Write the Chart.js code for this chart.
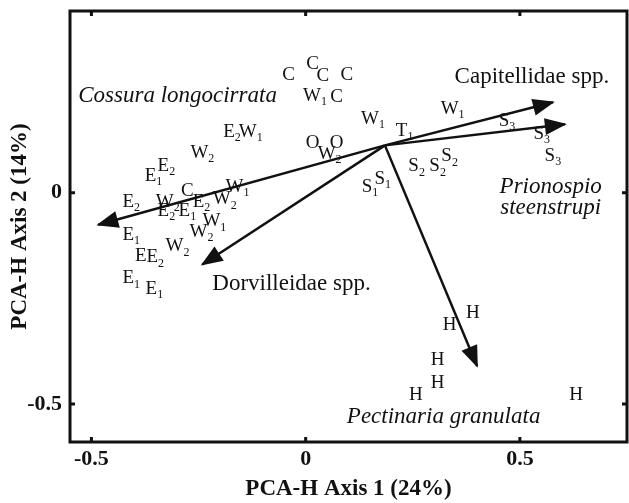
<!DOCTYPE html>
<html>
<head>
<meta charset="utf-8">
<title>PCA-H biplot</title>
<script src="https://cdn.jsdelivr.net/npm/chart.js@4.4.1/dist/chart.umd.min.js"></script>
<style>
  html, body { margin: 0; padding: 0; background: #fff; }
  #wrap { width: 629px; height: 503px; }
</style>
</head>
<body>
<div id="wrap"><canvas id="pcaChart" width="629" height="503"></canvas></div>
<script>
// sample scores (letter + subscript, PCA axis 1, PCA axis 2)
const sampleLetters = [
  "C", "C", "C", "C", "W", "C",
  "E", "W", "W", "E", "E",
  "O", "O", "W",
  "E", "W", "C", "E", "W", "W",
  "E", "E", "W", "W", "E", "W",
  "E", "E", "E", "E",
  "W", "W", "T", "S", "S", "S",
  "S", "S", "S", "S", "S",
  "H", "H", "H", "H", "H", "H"
];
const sampleSubs = [
  "", "", "", "", "1", "",
  "2", "1", "2", "1", "2",
  "", "", "2",
  "2", "2", "", "2", "2", "1",
  "2", "1", "1", "2", "1", "2",
  "", "2", "1", "1",
  "1", "1", "1", "3", "3", "3",
  "2", "2", "2", "1", "1",
  "", "", "", "", "", ""
];
const sampleAxis1 = [
  -0.040, 0.016, 0.040, 0.096, 0.022, 0.072,
  -0.172, -0.128, -0.241, -0.355, -0.325,
  0.016, 0.072, 0.056,
  -0.407, -0.322, -0.276, -0.243, -0.189, -0.159,
  -0.325, -0.276, -0.213, -0.243, -0.407, -0.299,
  -0.385, -0.351, -0.407, -0.353,
  0.157, 0.343, 0.231, 0.470, 0.551, 0.577,
  0.259, 0.308, 0.336, 0.150, 0.180,
  0.336, 0.390, 0.308, 0.308, 0.257, 0.631
];
const sampleAxis2 = [
  0.278, 0.304, 0.276, 0.278, 0.229, 0.226,
  0.143, 0.143, 0.095, 0.039, 0.063,
  0.117, 0.117, 0.091,
  -0.021, -0.021, 0.003, -0.021, -0.016, 0.013,
  -0.044, -0.044, -0.068, -0.092, -0.099, -0.127,
  -0.151, -0.153, -0.203, -0.227,
  0.174, 0.198, 0.146, 0.170, 0.139, 0.087,
  0.062, 0.062, 0.086, 0.013, 0.032,
  -0.313, -0.284, -0.396, -0.450, -0.479, -0.479
];

// species vectors, all drawn from the same origin
const vectorOrigin = [0.185, 0.112];
const vectorAxis1 = [0.577, 0.605, -0.484, -0.241, 0.400];
const vectorAxis2 = [0.214, 0.162, -0.076, -0.170, -0.410];

// species names placed next to the vectors
const nameLines = [["Capitellidae spp."], ["Prionospio", "steenstrupi"], ["Cossura longocirrata"], ["Dorvilleidae spp."], ["Pectinaria granulata"]];
const nameItalic = [false, true, true, false, true];
const nameAxis1 = [0.528, 0.572, -0.299, -0.033, 0.322];
const nameAxis2 = [0.273, -0.011, 0.229, -0.215, -0.531];

const xTicks = [-0.5, 0, 0.5];
const yTicks = [-0.5, 0];

const SERIF = "'Liberation Serif', 'Times New Roman', serif";
const INK = "#111";

function drawSample(ctx, letter, sub, px, py) {
  ctx.font = "19px " + SERIF;
  const w1 = ctx.measureText(letter).width;
  ctx.font = "12px " + SERIF;
  const w2 = sub ? ctx.measureText(sub).width : 0;
  const left = px - (w1 + w2) / 2;
  ctx.font = "19px " + SERIF;
  ctx.fillText(letter, left, py);
  if (sub) {
    ctx.font = "12px " + SERIF;
    ctx.fillText(sub, left + w1, py + 6);
  }
}

const biplotDecor = {
  id: "biplotDecor",
  afterDatasetsDraw(chart) {
    const { ctx, chartArea: a, scales: { x, y } } = chart;
    ctx.save();
    ctx.fillStyle = INK;
    ctx.strokeStyle = INK;

    // arrow heads at the end of each vector
    chart.data.datasets.forEach((ds, i) => {
      if (!ds.isVector) return;
      const pts = chart.getDatasetMeta(i).data;
      const p0 = pts[0], p1 = pts[1];
      const ang = Math.atan2(p1.y - p0.y, p1.x - p0.x);
      const c = Math.cos(ang), s = Math.sin(ang);
      const tx = p1.x + 2 * c, ty = p1.y + 2 * s;
      const len = 22, half = 8.5;
      ctx.beginPath();
      ctx.moveTo(tx, ty);
      ctx.lineTo(tx - len * c - half * s, ty - len * s + half * c);
      ctx.lineTo(tx - len * c + half * s, ty - len * s - half * c);
      ctx.closePath();
      ctx.fill();
    });

    // sample labels
    ctx.textBaseline = "middle";
    ctx.textAlign = "left";
    chart.getDatasetMeta(0).data.forEach((pt, i) => {
      drawSample(ctx, sampleLetters[i], sampleSubs[i], pt.x, pt.y);
    });

    // species names
    ctx.textAlign = "center";
    nameLines.forEach((lines, i) => {
      ctx.font = (nameItalic[i] ? "italic " : "") + "23px " + SERIF;
      const cx = x.getPixelForValue(nameAxis1[i]);
      const cy = y.getPixelForValue(nameAxis2[i]);
      lines.forEach((t, k) => {
        ctx.fillText(t, cx, cy + (k - (lines.length - 1) / 2) * 21);
      });
    });

    // frame and inward ticks
    ctx.lineWidth = 3;
    ctx.strokeRect(a.left, a.top, a.right - a.left, a.bottom - a.top);
    ctx.beginPath();
    xTicks.forEach(v => {
      const px = x.getPixelForValue(v);
      ctx.moveTo(px, a.bottom); ctx.lineTo(px, a.bottom - 5);
      ctx.moveTo(px, a.top); ctx.lineTo(px, a.top + 5);
    });
    yTicks.forEach(v => {
      const py = y.getPixelForValue(v);
      ctx.moveTo(a.left, py); ctx.lineTo(a.left + 5, py);
      ctx.moveTo(a.right, py); ctx.lineTo(a.right - 5, py);
    });
    ctx.stroke();
    ctx.restore();
  }
};

const datasets = [{
  label: "samples",
  data: sampleAxis1.map((v, i) => ({ x: v, y: sampleAxis2[i] })),
  pointRadius: 0
}];
vectorAxis1.forEach((v, i) => {
  datasets.push({
    label: nameLines[i].join(" "),
    isVector: true,
    data: [{ x: vectorOrigin[0], y: vectorOrigin[1] }, { x: v, y: vectorAxis2[i] }],
    showLine: true,
    borderColor: INK,
    borderWidth: 2.5,
    pointRadius: 0
  });
});

const tickFont = { family: SERIF, size: 22, weight: "bold" };
const titleFont = { family: SERIF, size: 23, weight: "bold" };

new Chart(document.getElementById("pcaChart"), {
  type: "scatter",
  data: { datasets },
  plugins: [biplotDecor],
  options: {
    responsive: false,
    animation: false,
    devicePixelRatio: 1,
    layout: { padding: { top: 11, right: 2, left: 0, bottom: 0 } },
    plugins: { legend: { display: false }, tooltip: { enabled: false } },
    scales: {
      x: {
        type: "linear",
        min: -0.55,
        max: 0.75,
        afterBuildTicks: s => { s.ticks = xTicks.map(v => ({ value: v })); },
        afterFit: s => { s.height = 61; s.paddingLeft = 0; s.paddingRight = 0; },
        grid: { display: false, drawTicks: false },
        border: { display: false },
        ticks: { padding: 4, color: INK, font: tickFont, callback: v => String(v) },
        title: { display: true, text: "PCA-H Axis 1 (24%)", color: INK, font: titleFont, padding: 0 }
      },
      y: {
        type: "linear",
        min: -0.59,
        max: 0.43,
        afterBuildTicks: s => { s.ticks = yTicks.map(v => ({ value: v })); },
        afterFit: s => { s.width = 70; s.paddingTop = 0; s.paddingBottom = 0; },
        grid: { display: false, drawTicks: false },
        border: { display: false },
        ticks: { padding: 8, color: INK, font: tickFont, callback: v => String(v) },
        title: { display: true, text: "PCA-H Axis 2 (14%)", color: INK, font: titleFont, padding: { top: 6, bottom: 0 } }
      }
    }
  }
});
</script>
</body>
</html>
